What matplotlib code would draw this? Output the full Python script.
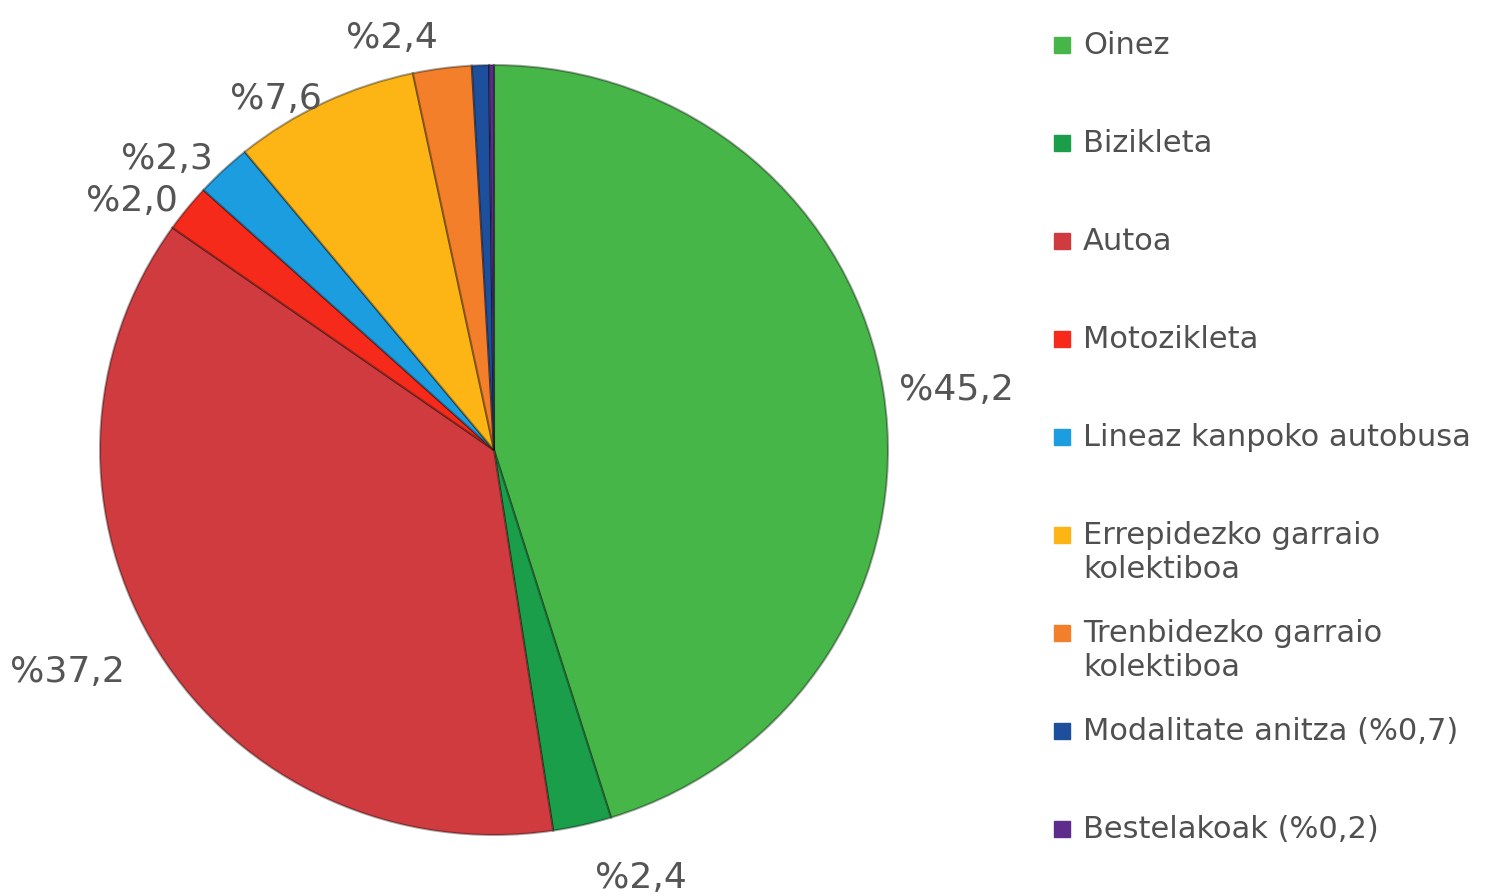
import matplotlib.pyplot as plt
import numpy as np

# transport mode shares (%)
modes = ['Oinez', 'Bizikleta', 'Autoa', 'Motozikleta', 'Lineaz kanpoko autobusa',
         'Errepidezko garraio\nkolektiboa', 'Trenbidezko garraio\nkolektiboa',
         'Modalitate anitza (%0,7)', 'Bestelakoak (%0,2)']
shares = [45.2, 2.4, 37.2, 2.0, 2.3, 7.6, 2.4, 0.7, 0.2]
pct_labels = ['%45,2', '%2,4', '%37,2', '%2,0', '%2,3', '%7,6', '%2,4', '', '']
colors = ['#47b649', '#1a9e4a', '#cf3b3e', '#f52a1a', '#1b9de0',
          '#fdb515', '#f47f2a', '#1d4f9c', '#5e2d8c']

# how far out each percentage label sits (in radii)
label_dist = [1.04, 1.14, 1.1, 1.03, 1.04, 1.01, 1.08, 1.1, 1.1]

fig = plt.figure(figsize=(14.85, 8.96), dpi=100)

# pie
ax = fig.add_axes([100 / 1485, 61 / 896, 788 / 1485, 770 / 896])
wedges, texts = ax.pie(shares, labels=pct_labels, colors=colors, startangle=90,
                       counterclock=False, labeldistance=1.07,
                       wedgeprops=dict(edgecolor=(0, 0, 0, 0.35), linewidth=1.5),
                       textprops=dict(fontsize=26, color='#555555'))
for w, t, d in zip(wedges, texts, label_dist):
    mid = np.deg2rad((w.theta1 + w.theta2) / 2)
    t.set_position((d * np.cos(mid), d * np.sin(mid)))
ax.set_aspect('auto')
ax.set_xlim(-1, 1)
ax.set_ylim(-1, 1)

# legend drawn by hand so rows keep a fixed spacing
lax = fig.add_axes([1050 / 1485, 18 / 896, 435 / 1485, 882 / 896])
lax.set_xlim(0, 1)
lax.set_ylim(len(modes) - 0.5, -0.5)
lax.axis('off')
for i, (m, c) in enumerate(zip(modes, colors)):
    lax.plot(12 / 435, i, marker='s', markersize=11, color=c, clip_on=False)
    lax.text(33 / 435, i - 0.14, m, fontsize=22, color='#505050', va='top',
             ha='left', linespacing=1.2)

fig.savefig('out.png', dpi=100)
